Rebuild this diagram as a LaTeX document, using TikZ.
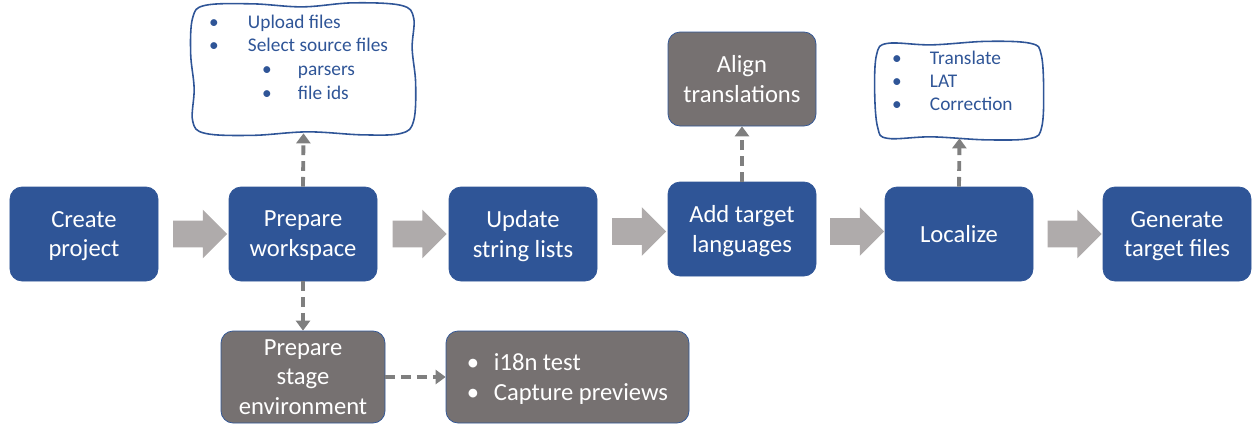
\documentclass[tikz,border=0pt]{standalone}
\usepackage{fontspec}
\setmainfont{Carlito}
\usepackage{tikz}
\usetikzlibrary{calc,shapes.arrows,arrows.meta}
\definecolor{stepblue}{HTML}{2F5597}
\definecolor{sidegray}{HTML}{767171}
\definecolor{flowgray}{HTML}{AFABAB}
\definecolor{dashgray}{HTML}{7F7F7F}
\newcommand{\itm}[1]{\makebox[#1][l]{\textbullet}}
\tikzset{
  >={Triangle[length=0.2cm,width=0.28cm]},
  stepbox/.style={fill=stepblue,draw=stepblue,rounded corners=0.24cm,text=white,
    minimum width=2.96cm,minimum height=1.88cm,align=center,text depth=-1pt,
    font=\fontsize{14}{17}\selectfont},
  sidebox/.style={stepbox,fill=sidegray,draw=stepblue,thin},
  notebox/.style={inner sep=0pt,draw=none},
  noteline/.style={draw=stepblue,line width=0.9pt},
  notetext/.style={text=stepblue,font=\fontsize{11}{13.4}\selectfont,anchor=north west,
    align=left,inner sep=0pt},
  blockarrow/.style={single arrow,fill=flowgray,draw=none,inner xsep=0pt,inner ysep=0.26cm,
    single arrow head extend=0.22cm,minimum height=1.08cm},
  dasharrow/.style={->,draw=dashgray,line width=2.2pt,dash pattern=on 5.5pt off 3.5pt},
}

\begin{document}
\begin{tikzpicture}
\useasboundingbox (0,0) rectangle (25.1,8.56);

% main steps
\node[stepbox] (create) at (1.68,3.88) {Create\\project};
\node[stepbox] (workspace) at (6.06,3.88) {Prepare\\workspace};
\node[stepbox] (update) at (10.46,3.88) {Update\\string lists};
\node[stepbox] (addlang) at (14.84,3.98) {Add target\\languages};
\node[stepbox] (localize) at (19.18,3.88) {Localize};
\node[stepbox] (generate) at (23.54,3.88) {Generate\\target files};

\node[blockarrow] (a1) at ($(create.east)!0.5!(workspace.west)$) {};
\node[blockarrow] (a2) at ($(workspace.east)!0.5!(update.west)$) {};
\node[blockarrow] (a3) at ($(update.east)!0.5!(addlang.west)$) {};
\node[blockarrow] (a4) at ($(addlang.east)!0.5!(localize.west)$) {};
\node[blockarrow] (a5) at ($(localize.east)!0.5!(generate.west)$) {};

% side boxes
\node[sidebox] (align) at (14.84,6.98) {Align\\translations};
\node[sidebox,minimum width=3.28cm,minimum height=1.84cm,
  font=\fontsize{14}{16.6}\selectfont] (stage) at (6.06,1.02) {Prepare\\stage\\environment};
\node[sidebox,minimum width=4.86cm,minimum height=1.84cm,align=left] (tests) at (11.35,1.02)
  {\itm{0.54cm}i18n test\\\itm{0.54cm}Capture previews};

% notes (hand drawn frames)
\node[notebox,minimum width=4.42cm,minimum height=2.56cm] (upload) at (6.07,7.18) {};
\begin{scope}[shift={(upload.south west)}]
\draw[noteline] plot[smooth cycle,tension=0.6] coordinates {
  (0.25,0) (1.2,-0.04) (2.3,0.03) (3.4,-0.03) (4.17,0) (4.42,0.25) (4.46,1.0)
  (4.39,1.7) (4.42,2.31) (4.17,2.56) (3.2,2.61) (2.2,2.53) (1.2,2.59) (0.25,2.56)
  (0,2.31) (-0.04,1.6) (0.03,0.9) (0,0.25)};
\end{scope}
\node[notetext] (uploadtext) at ($(upload.north west)+(0.32cm,-0.2cm)$)
  {\itm{0.78cm}Upload files\\
   \itm{0.78cm}Select source files\\
   \hspace*{1.06cm}\itm{0.72cm}parsers\\
   \hspace*{1.06cm}\itm{0.72cm}file ids};

\node[notebox,minimum width=3.3cm,minimum height=1.9cm] (checks) at (19.19,6.75) {};
\begin{scope}[shift={(checks.south west)}]
\draw[noteline] plot[smooth cycle,tension=0.6] coordinates {
  (0.22,0) (1.1,0.03) (2.2,-0.03) (3.08,0) (3.3,0.22) (3.34,0.95) (3.29,1.68)
  (3.08,1.9) (2.2,1.94) (1.1,1.87) (0.22,1.9) (0,1.68) (-0.04,0.95) (0.02,0.22)};
\end{scope}
\node[notetext,font=\fontsize{11}{13}\selectfont] (checkstext)
  at ($(checks.north west)+(0.3cm,-0.16cm)$)
  {\itm{0.76cm}Translate\\
   \itm{0.76cm}LAT\\
   \itm{0.76cm}Correction};

% dashed links
\draw[dasharrow] (workspace.north) -- (upload.south);
\draw[dasharrow] (workspace.south) -- (stage.north);
\draw[dasharrow] (stage.east) -- (tests.west);
\draw[dasharrow] (addlang.north) -- (align.south);
\draw[dasharrow] (localize.north) -- (checks.south);
\end{tikzpicture}
\end{document}
